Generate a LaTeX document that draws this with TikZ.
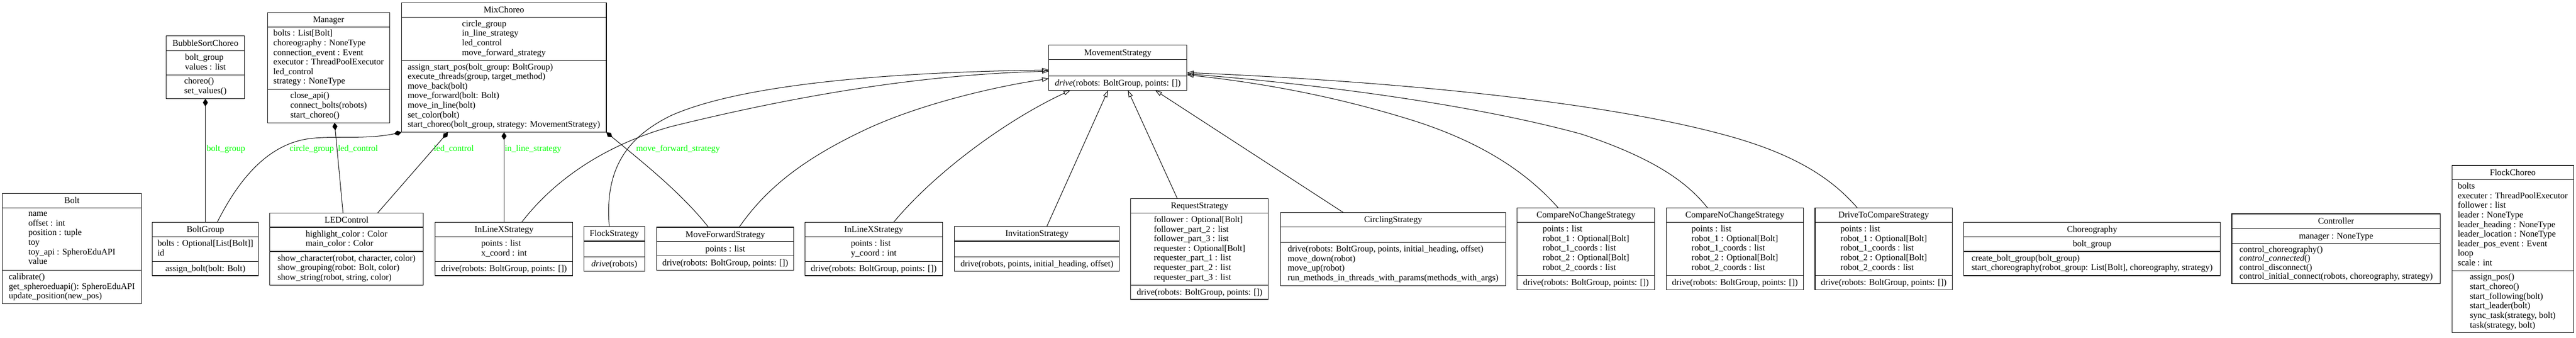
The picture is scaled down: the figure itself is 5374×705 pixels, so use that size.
\documentclass[tikz,border=0pt]{standalone}
\usepackage{fontspec}
\setmainfont{Liberation Serif}
\usetikzlibrary{arrows.meta,calc,fit}
\definecolor{lbl}{RGB}{0,255,0}
\newcommand\mystrut{\rule[-4.5pt]{0pt}{20pt}}
\newcommand\umlcls[7]{%
  \node[clsbox, fit={(#2,#3) (#4,#5)}] (#1) {};
  \draw[clsline] (#2,#6) -- (#4,#6) (#2,#7) -- (#4,#7);
  \coordinate (#1-T) at ({(#2+#4)/2},{(#3+#6)/2});
  \coordinate (#1-A) at ({(#2+#4)/2},{(#6+#7)/2});
  \coordinate (#1-M) at ({(#2+#4)/2},{(#7+#5)/2});
}
\tikzset{
  clsbox/.style={draw=black, line width=1.2pt, inner sep=0pt, outer sep=0pt},
  clsline/.style={draw=black, line width=1.2pt},
  txt/.style={inner sep=0pt, align=left, font=\fontsize{18.3}{20}\selectfont,
    execute at begin node=\mystrut, execute at end node=\mystrut},
  lab/.style={inner sep=0pt, anchor=base west, text=lbl, font=\fontsize{18.3}{20}\selectfont},
  comp/.style={draw=black, line width=1.1pt, {Diamond[length=16pt,width=10.5pt]}-},
  inh/.style={draw=black, line width=1.1pt, -{Triangle[open,length=14pt,width=9pt]}},
}
\begin{document}
\begin{tikzpicture}[x=1pt,y=-1pt]
\path[fill=white] (0,0) rectangle (5374,705);
\useasboundingbox (0,0) rectangle (5374,705);

% ---------------- classes ----------------
\umlcls{Bolt}{5}{404}{295}{634}{434}{564}
\node[txt] (Bolt-t) at (Bolt-T) {Bolt};
\node[txt] (Bolt-a) at (Bolt-A) {name\\offset : int\\position : tuple\\toy\\toy\_api : SpheroEduAPI\\value};
\node[txt] (Bolt-m) at (Bolt-M) {calibrate()\\get\_spheroeduapi(): SpheroEduAPI\\update\_position(new\_pos)};

\umlcls{BubbleSort}{347}{75}{510}{206}{106}{156}
\node[txt] (BubbleSort-t) at (BubbleSort-T) {BubbleSortChoreo};
\node[txt] (BubbleSort-a) at (BubbleSort-A) {bolt\_group\\values : list};
\node[txt] (BubbleSort-m) at (BubbleSort-M) {choreo()\\set\_values()};

\umlcls{BoltGroup}{318}{464}{539}{575}{494}{545}
\node[txt] (BoltGroup-t) at (BoltGroup-T) {BoltGroup};
\node[txt] (BoltGroup-a) at (BoltGroup-A) {bolts : Optional[List[Bolt]]\\id};
\node[txt] (BoltGroup-m) at (BoltGroup-M) {assign\_bolt(bolt: Bolt)};

\umlcls{Manager}{558}{26}{813}{256}{56}{186}
\node[txt] (Manager-t) at (Manager-T) {Manager};
\node[txt] (Manager-a) at (Manager-A) {bolts : List[Bolt]\\choreography : NoneType\\connection\_event : Event\\executor : ThreadPoolExecutor\\led\_control\\strategy : NoneType};
\node[txt] (Manager-m) at (Manager-M) {close\_api()\\connect\_bolts(robots)\\start\_choreo()};

\umlcls{LED}{563}{444}{883}{595}{474}{524.5}
\node[txt] (LED-t) at (LED-T) {LEDControl};
\node[txt] (LED-a) at (LED-A) {highlight\_color : Color\\main\_color : Color};
\node[txt] (LED-m) at (LED-M) {show\_character(robot, character, color)\\show\_grouping(robot: Bolt, color)\\show\_string(robot, string, color)};

\umlcls{Mix}{837.5}{6}{1265}{276}{36}{126}
\node[txt] (Mix-t) at (Mix-T) {MixChoreo};
\node[txt] (Mix-a) at (Mix-A) {circle\_group\\in\_line\_strategy\\led\_control\\move\_forward\_strategy};
\node[txt] (Mix-m) at (Mix-M) {assign\_start\_pos(bolt\_group: BoltGroup)\\execute\_threads(group, target\_method)\\move\_back(bolt)\\move\_forward(bolt: Bolt)\\move\_in\_line(bolt)\\set\_color(bolt)\\start\_choreo(bolt\_group, strategy: MovementStrategy)};

\umlcls{InLineX}{908}{464}{1195}{575}{494}{545}
\node[txt] (InLineX-t) at (InLineX-T) {InLineXStrategy};
\node[txt] (InLineX-a) at (InLineX-A) {points : list\\x\_coord : int};
\node[txt] (InLineX-m) at (InLineX-M) {drive(robots: BoltGroup, points: [])};

\umlcls{Flock}{1218}{472}{1345}{566}{503}{536}
\node[txt] (Flock-t) at (Flock-T) {FlockStrategy};
\node[txt] (Flock-m) at (Flock-M) {\textit{drive}(robots)};

\umlcls{MoveFwd}{1370}{474}{1656}{564}{504}{534}
\node[txt] (MoveFwd-t) at (MoveFwd-T) {MoveForwardStrategy};
\node[txt] (MoveFwd-a) at (MoveFwd-A) {points : list};
\node[txt] (MoveFwd-m) at (MoveFwd-M) {drive(robots: BoltGroup, points: [])};

\umlcls{InLineY}{1679.5}{464}{1966}{575}{494}{545}
\node[txt] (InLineY-t) at (InLineY-T) {InLineXStrategy};
\node[txt] (InLineY-a) at (InLineY-A) {points : list\\y\_coord : int};
\node[txt] (InLineY-m) at (InLineY-M) {drive(robots: BoltGroup, points: [])};

\umlcls{Invit}{1991.5}{472}{2335}{566}{503}{536}
\node[txt] (Invit-t) at (Invit-T) {InvitationStrategy};
\node[txt] (Invit-m) at (Invit-M) {drive(robots, points, initial\_heading, offset)};

\umlcls{Move}{2188}{94.5}{2476}{188.5}{124.5}{158.5}
\node[txt] (Move-t) at (Move-T) {MovementStrategy};
\node[txt] (Move-m) at (Move-M) {\textit{drive}(robots: BoltGroup, points: [])};

\umlcls{Request}{2359}{414}{2646}{624.5}{444.5}{594.5}
\node[txt] (Request-t) at (Request-T) {RequestStrategy};
\node[txt] (Request-a) at (Request-A) {follower : Optional[Bolt]\\follower\_part\_2 : list\\follower\_part\_3 : list\\requester : Optional[Bolt]\\requester\_part\_1 : list\\requester\_part\_2 : list\\requester\_part\_3 : list};
\node[txt] (Request-m) at (Request-M) {drive(robots: BoltGroup, points: [])};

\umlcls{Circ}{2671}{443}{3141.5}{595.5}{473}{506}
\node[txt] (Circ-t) at (Circ-T) {CirclingStrategy};
\node[txt] (Circ-m) at (Circ-M) {drive(robots: BoltGroup, points, initial\_heading, offset)\\move\_down(robot)\\move\_up(robot)\\run\_methods\_in\_threads\_with\_params(methods\_with\_args)};

\umlcls{CNCa}{3165}{434}{3452}{604.5}{464}{574.5}
\node[txt] (CNCa-t) at (CNCa-T) {CompareNoChangeStrategy};
\node[txt] (CNCa-a) at (CNCa-A) {points : list\\robot\_1 : Optional[Bolt]\\robot\_1\_coords : list\\robot\_2 : Optional[Bolt]\\robot\_2\_coords : list};
\node[txt] (CNCa-m) at (CNCa-M) {drive(robots: BoltGroup, points: [])};

\umlcls{CNCb}{3476}{434}{3762.5}{604.5}{464}{574.5}
\node[txt] (CNCb-t) at (CNCb-T) {CompareNoChangeStrategy};
\node[txt] (CNCb-a) at (CNCb-A) {points : list\\robot\_1 : Optional[Bolt]\\robot\_1\_coords : list\\robot\_2 : Optional[Bolt]\\robot\_2\_coords : list};
\node[txt] (CNCb-m) at (CNCb-M) {drive(robots: BoltGroup, points: [])};

\umlcls{Drive}{3786.5}{434}{4073}{604.5}{464}{574.5}
\node[txt] (Drive-t) at (Drive-T) {DriveToCompareStrategy};
\node[txt] (Drive-a) at (Drive-A) {points : list\\robot\_1 : Optional[Bolt]\\robot\_1\_coords : list\\robot\_2 : Optional[Bolt]\\robot\_2\_coords : list};
\node[txt] (Drive-m) at (Drive-M) {drive(robots: BoltGroup, points: [])};

\umlcls{Choreo}{4097}{464}{4632}{575}{494}{524.5}
\node[txt] (Choreo-t) at (Choreo-T) {Choreography};
\node[txt] (Choreo-a) at (Choreo-A) {bolt\_group};
\node[txt] (Choreo-m) at (Choreo-M) {create\_bolt\_group(bolt\_group)\\start\_choreography(robot\_group: List[Bolt], choreography, strategy)};

\umlcls{Ctrl}{4656}{446}{5091}{592}{477}{507.5}
\node[txt] (Ctrl-t) at (Ctrl-T) {Controller};
\node[txt] (Ctrl-a) at (Ctrl-A) {manager : NoneType};
\node[txt, font=\fontsize{18.3}{18.8}\selectfont] (Ctrl-m) at (Ctrl-M) {control\_choreography()\\\textit{control\_connected}()\\control\_disconnect()\\control\_initial\_connect(robots, choreography, strategy)};

\umlcls{FlockC}{5115}{345}{5369}{694}{375}{565}
\node[txt] (FlockC-t) at (FlockC-T) {FlockChoreo};
\node[txt] (FlockC-a) at (FlockC-A) {bolts\\executer : ThreadPoolExecutor\\follower : list\\leader : NoneType\\leader\_heading : NoneType\\leader\_location : NoneType\\leader\_pos\_event : Event\\loop\\scale : int};
\node[txt] (FlockC-m) at (FlockC-M) {assign\_pos()\\start\_choreo()\\start\_following(bolt)\\start\_leader(bolt)\\sync\_task(strategy, bolt)\\task(strategy, bolt)};

% ---------------- compositions ----------------
\draw[comp] (BubbleSort.south) -- (BoltGroup.north);
\draw[comp] (Mix.south west) .. controls (760,292) and (690,282) .. (640,290)
  .. controls (560,303) and (500,370) .. ($(BoltGroup.north west)+(135,0)$);
\draw[comp] ($(Manager.south west)+(140,0)$) -- ($(LED.north west)+(152.6,0)$);
\draw[comp] ($(Mix.south west)+(97,0)$) -- ($(LED.north west)+(225,0)$);
\draw[comp] ($(Mix.south west)+(214,0)$) -- (InLineX.north);
\draw[comp] (Mix.south east) .. controls (1330,330) and (1420,400) .. ($(MoveFwd.north west)+(108,0)$);

\node[lab] (l1) at (431,315) {bolt\_group};
\node[lab] (l2) at (604,315) {circle\_group};
\node[lab] (l3) at (705,315) {led\_control};
\node[lab] (l4) at (905,315) {led\_control};
\node[lab] (l5) at (1053,315) {in\_line\_strategy};
\node[lab] (l6) at (1327,315) {move\_forward\_strategy};

% ---------------- inheritance ----------------
\draw[inh] ($(Flock.north west)+(53,0)$) .. controls (1262,360) and (1300,290) .. (1400,241)
  .. controls (1560,170) and (1900,150) .. ($(Move.north west)+(0,51.5)$);
\draw[inh] ($(InLineX.north west)+(180,0)$) .. controls (1160,370) and (1270,300) .. (1400,264)
  .. controls (1700,190) and (1950,155) .. ($(Move.north west)+(0,54)$);
\draw[inh] ($(MoveFwd.north west)+(172,0)$) .. controls (1600,390) and (1680,330) .. (1802,272)
  .. controls (1920,216) and (2080,180) .. ($(Move.north west)+(0,69.5)$);
\draw[inh] ($(InLineY.north west)+(184.5,0)$) .. controls (1950,360) and (2100,250) .. ($(Move.south west)+(45,0)$);
\draw[inh] ($(Invit.north west)+(192.5,0)$) -- ($(Move.south west)+(123.5,0)$);
\draw[inh] ($(Request.north west)+(97,0)$) -- ($(Move.south west)+(165,0)$);
\draw[inh] ($(Circ.north west)+(131,0)$) -- ($(Move.south west)+(222,0)$);
\draw[inh] ($(CNCa.north west)+(86,0)$) .. controls (3190,365) and (3100,300) .. (2950,252)
  .. controls (2800,205) and (2650,175) .. ($(Move.north east)+(0,61.5)$);
\draw[inh] ($(CNCb.north west)+(86.5,0)$) .. controls (3520,380) and (3450,330) .. (3300,280)
  .. controls (3100,225) and (2800,180) .. ($(Move.north east)+(0,59.5)$);
\draw[inh] ($(Drive.north west)+(88.5,0)$) .. controls (3820,370) and (3740,320) .. (3600,282)
  .. controls (3300,200) and (2800,165) .. ($(Move.north east)+(0,57)$);
\end{tikzpicture}
\end{document}
